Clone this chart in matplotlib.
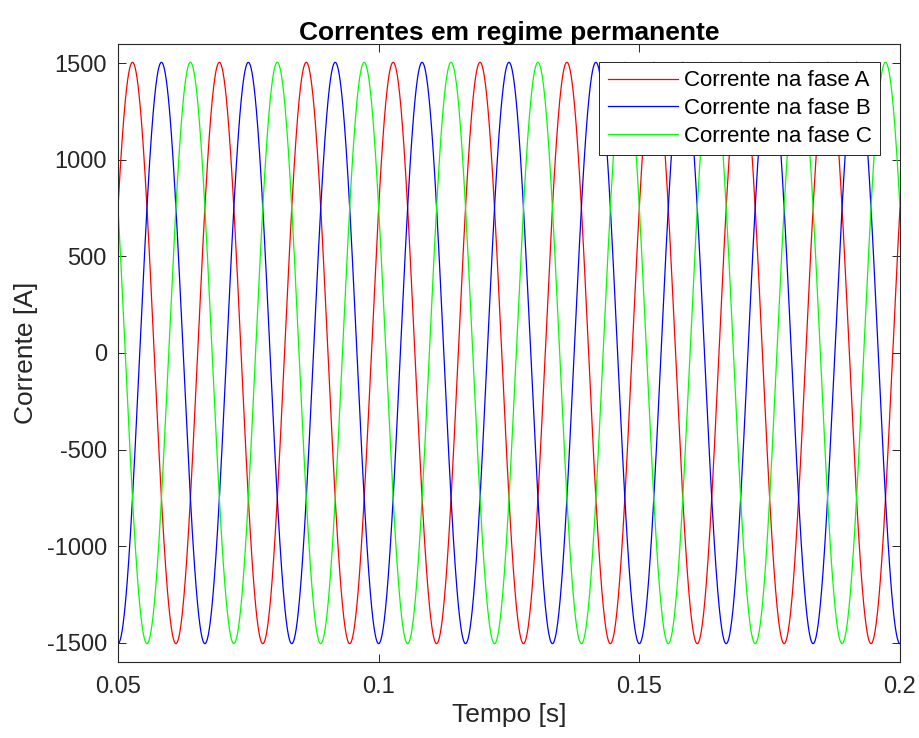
import numpy as np
import matplotlib
matplotlib.use("Agg")
import matplotlib.pyplot as plt

# Three-phase currents
amplitude = 1505.0          # A, peak
frequency = 60.0            # Hz
phases_deg = [30.0, -90.0, 150.0]   # phase A, B, C
labels = ["Corrente na fase A", "Corrente na fase B", "Corrente na fase C"]
colors = ["#ff0000", "#0000ff", "#00ff00"]
t_start, t_end = 0.05, 0.2
xticks = [0.05, 0.1, 0.15, 0.2]
xticklabels = ["0.05", "0.1", "0.15", "0.2"]
yticks = [-1500, -1000, -500, 0, 500, 1000, 1500]

plt.rcParams["font.family"] = ["Liberation Sans", "DejaVu Sans"]
plt.rcParams["axes.unicode_minus"] = False

t = np.linspace(t_start, t_end, 6000)

fig = plt.figure(figsize=(9.19, 7.38), dpi=100)
ax = fig.add_axes([0.1284, 0.103, 0.8509, 0.8374])

for ph, lab, c in zip(phases_deg, labels, colors):
    i = amplitude * np.sin(2 * np.pi * frequency * t + np.deg2rad(ph))
    ax.plot(t, i, color=c, lw=0.9, label=lab)

ax.set_xlim(t_start, t_end)
ax.set_ylim(-1600, 1600)
ax.set_xticks(xticks)
ax.set_xticklabels(xticklabels)
ax.set_yticks(yticks)

gray = "#262626"
for s in ax.spines.values():
    s.set_color(gray)
    s.set_linewidth(0.8)
ax.tick_params(direction="in", top=True, right=True, length=6, width=0.7,
               colors=gray, labelsize=17)
ax.tick_params(axis="x", pad=10)
ax.tick_params(axis="y", pad=8)

ax.set_xlabel("Tempo [s]", fontsize=19, color=gray, labelpad=4)
ax.set_ylabel("Corrente [A]", fontsize=19, color=gray, labelpad=6)
ax.set_title("Correntes em regime permanente", fontsize=19,
             fontweight="bold", pad=3)

leg = ax.legend(loc="upper right", bbox_to_anchor=(0.9744, 0.971),
                borderaxespad=0, fontsize=16, fancybox=False, framealpha=1,
                edgecolor=gray, handlelength=3.15, handletextpad=0.27,
                labelspacing=0.3, borderpad=0.38)
leg.get_frame().set_linewidth(0.7)

plt.savefig("out.png", dpi=100)
